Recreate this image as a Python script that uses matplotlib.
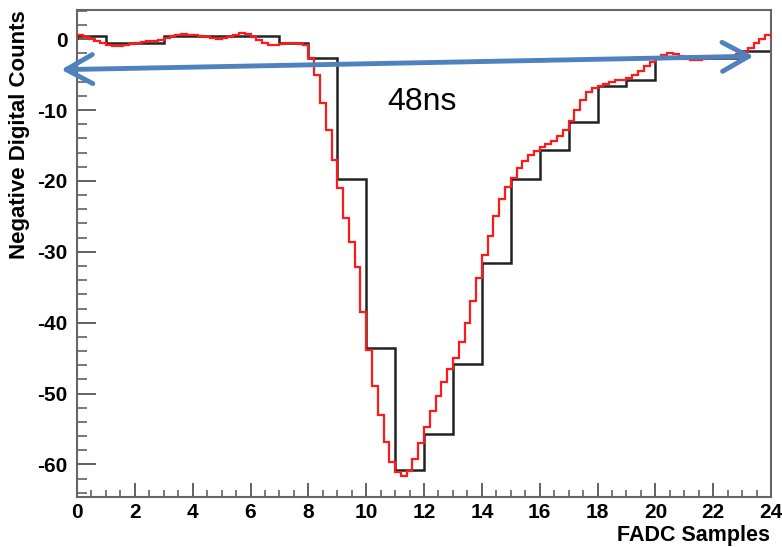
import matplotlib
matplotlib.use("Agg")
import matplotlib.pyplot as plt
import numpy as np

# FADC samples (1 per bin, 0..24)
sample_counts = [0.5, -0.6, -0.6, 0.5, 0.5, 0.5, 0.5, -0.6, -2.7, -19.7,
                 -43.6, -60.8, -55.7, -45.8, -31.6, -19.7, -15.7, -11.7,
                 -6.6, -5.8, -2.6, -2.6, -2.6, -1.7]

# fitted pulse shape, fine bins of 0.2 samples
fit_counts = [
    0.6, 0.35, 0.05, -0.3, -0.6, -0.85, -1.0, -0.95, -0.8, -0.7,
    -0.55, -0.4, -0.3, -0.2, -0.05, 0.2, 0.4, 0.55, 0.7, 0.65,
    0.55, 0.45, 0.3, 0.15, 0.1, 0.15, 0.3, 0.6, 0.9, 0.7,
    0.35, -0.05, -0.5, -0.85, -0.85, -0.7, -0.55, -0.55, -0.65, -0.8,
    -2.6, -5.0, -9.0, -12.8, -17.0, -21.0, -25.2, -28.6, -32.2, -38.5,
    -43.8, -49.0, -53.0, -56.8, -59.7, -61.1, -61.6, -61.0, -59.2, -57.0,
    -54.7, -52.5, -50.3, -48.4, -46.5, -45.0, -42.7, -40.0, -37.0, -33.7,
    -30.5, -27.8, -25.0, -22.5, -20.8, -19.6, -18.2, -17.2, -16.3, -15.8,
    -15.2, -14.8, -14.3, -13.6, -12.8, -11.6, -10.0, -8.6, -7.5, -6.9,
    -6.6, -6.3, -6.0, -5.8, -5.7, -5.5, -5.0, -4.5, -3.8, -3.2,
    -2.8, -2.2, -2.0, -2.1, -2.4, -2.8, -3.0, -3.0, -2.8, -2.6,
    -2.5, -2.5, -2.4, -2.3, -2.1, -1.8, -1.2, -0.6, 0.0, 0.6,
]

x_min, x_max = 0, 24
y_min, y_max = -64.6, 4.1

plt.rcParams['font.family'] = ['Liberation Sans', 'DejaVu Sans']
plt.rcParams['axes.unicode_minus'] = False

fig = plt.figure(figsize=(7.82, 5.47), dpi=100)
ax = fig.add_axes([0.0985, 0.0914, 0.8875, 0.890])

ax.stairs(sample_counts, np.arange(len(sample_counts) + 1),
          color='#222222', lw=1.8, zorder=2)
fine_edges = np.linspace(x_min, x_max, len(fit_counts) + 1)
ax.stairs(fit_counts, fine_edges, color='#ff1a1a', lw=1.6, zorder=3)

ax.set_xlim(x_min, x_max)
ax.set_ylim(y_min, y_max)

ax.set_xticks(np.arange(0, 25, 2))
ax.set_xticks(np.arange(0, 24.01, 0.5), minor=True)
ax.set_yticks(np.arange(-60, 1, 10))
ax.set_yticks(np.arange(-64, 4.1, 2), minor=True)

ax.tick_params(axis='both', which='both', direction='in', top=False, right=False,
               color='#555555', labelsize=15)
ax.tick_params(axis='x', which='major', length=10, width=1.3, pad=4)
ax.tick_params(axis='x', which='minor', length=5, width=1.1)
ax.tick_params(axis='y', which='major', length=14, width=1.3, pad=7)
ax.tick_params(axis='y', which='minor', length=7, width=1.1)
for lab in ax.get_xticklabels() + ax.get_yticklabels():
    lab.set_fontweight('bold')

for sp in ax.spines.values():
    sp.set_color('#666666')
    sp.set_linewidth(1.5)

fig.text(20 / 782, 1 - 10 / 547, 'Negative Digital Counts', rotation=90,
         ha='center', va='top', fontsize=16, fontweight='bold')
fig.text(770 / 782, 1 - 535 / 547, 'FADC Samples', ha='right', va='center',
         fontsize=15.5, fontweight='bold')

# 48 ns width arrow
ax.annotate('', xy=(-0.55, -4.3), xytext=(23.4, -2.4),
            arrowprops=dict(arrowstyle='<->,head_length=1.0,head_width=0.55',
                            lw=3.5, color='#4f81bd', shrinkA=0, shrinkB=0,
                            mutation_scale=19),
            annotation_clip=False, zorder=5)
ax.text(11.94, -8.9, '48ns', fontsize=23, ha='center', va='center')

fig.savefig('out.png', dpi=100)
